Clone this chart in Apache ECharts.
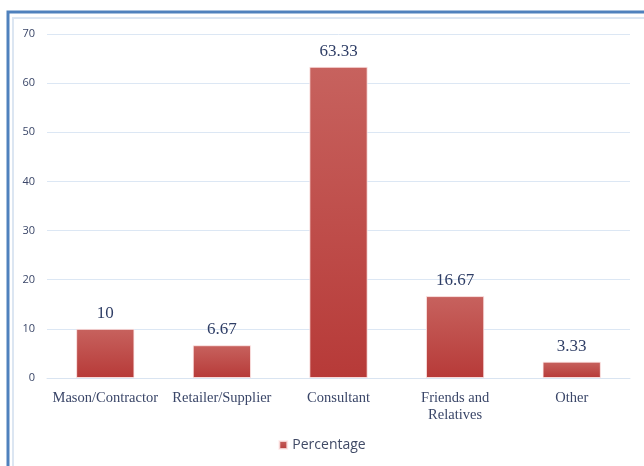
<!DOCTYPE html>
<html>
<head>
<meta charset="utf-8">
<script src="https://cdn.jsdelivr.net/npm/echarts@6/dist/echarts.min.js"></script>
<style>html,body{margin:0;padding:0;background:#fff}#c{width:644px;height:466px}</style>
</head>
<body>
<div id="c"></div>
<script>
var categories = ['Mason/Contractor', 'Retailer/Supplier', 'Consultant', 'Friends and\nRelatives', 'Other'];
var percentage = [10, 6.67, 63.33, 16.67, 3.33];
var valueLabels = ['10', '6.67', '63.33', '16.67', '3.33'];

var chart = echarts.init(document.getElementById('c'));
chart.setOption({
  animation: false,
  graphic: [
    {type: 'rect', shape: {x: 8, y: 12, width: 700, height: 500}, style: {fill: 'none', stroke: '#4f81bd', lineWidth: 3}},
    {type: 'rect', shape: {x: 13, y: 18, width: 700, height: 500}, style: {fill: 'none', stroke: '#dce6f2', lineWidth: 2}}
  ],
  grid: {left: 47, right: 14, top: 34, bottom: 88},
  legend: {
    bottom: 9, left: 'center',
    itemWidth: 8, itemHeight: 8, itemGap: 6,
    icon: 'rect',
    textStyle: {fontFamily: 'Open Sans', fontSize: 14, color: '#404a66'},
    data: ['Percentage']
  },
  xAxis: {
    type: 'category',
    data: categories,
    axisLine: {lineStyle: {color: '#d9e4f1', width: 1}},
    axisTick: {show: false},
    axisLabel: {fontFamily: 'Liberation Serif', fontSize: 14.5, color: '#3a4668', margin: 12, lineHeight: 17, interval: 0}
  },
  yAxis: {
    type: 'value', min: 0, max: 70, interval: 10,
    axisLine: {show: false}, axisTick: {show: false},
    splitLine: {lineStyle: {color: '#dce7f4', width: 1}},
    axisLabel: {fontFamily: 'Open Sans', fontSize: 11, color: '#3a4668', margin: 12}
  },
  series: [{
    name: 'Percentage',
    type: 'bar',
    data: percentage,
    barWidth: '50%',
    itemStyle: {
      color: new echarts.graphic.LinearGradient(0, 0, 0, 1, [
        {offset: 0, color: '#c7625e'},
        {offset: 1, color: '#b73a38'}
      ]),
      borderColor: 'rgba(255,235,235,0.8)',
      borderWidth: 1
    },
    label: {
      show: true, position: 'top', distance: 7,
      fontFamily: 'Liberation Serif', fontSize: 17, color: '#2f3e66',
      formatter: function (p) { return valueLabels[p.dataIndex]; }
    }
  }]
});
</script>
</body>
</html>
